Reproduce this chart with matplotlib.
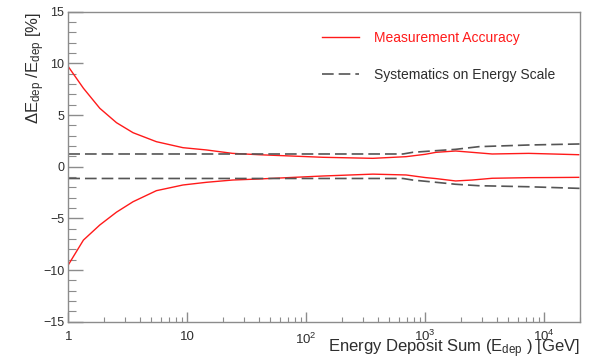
import numpy as np
import matplotlib
matplotlib.use('Agg')
import matplotlib.pyplot as plt
from matplotlib.ticker import FixedLocator, FixedFormatter, MultipleLocator, LogLocator, NullFormatter
from matplotlib.transforms import ScaledTranslation

plt.rcParams['font.family'] = ['Liberation Sans', 'DejaVu Sans']
plt.rcParams['mathtext.fontset'] = 'custom'
plt.rcParams['mathtext.rm'] = 'Liberation Sans'
plt.rcParams['mathtext.it'] = 'Liberation Sans:italic'
plt.rcParams['mathtext.default'] = 'regular'

acc_energy = [1, 1.34, 1.84, 2.54, 3.5, 5.5, 9.2, 14.5, 24, 40, 138, 363, 690,
              1000, 1230, 1800, 2480, 3650, 7400, 11700, 19500]
acc_upper = [9.68, 7.59, 5.65, 4.26, 3.29, 2.42, 1.84, 1.62, 1.29, 1.16, 0.91, 0.81, 0.97,
             1.2, 1.39, 1.52, 1.39, 1.23, 1.29, 1.23, 1.16]
acc_lower = [-9.5, -7.1, -5.64, -4.4, -3.39, -2.32, -1.77, -1.51, -1.29, -1.19, -0.9, -0.72, -0.8,
             -1.05, -1.15, -1.38, -1.29, -1.12, -1.06, -1.05, -1.03]

# systematics on energy scale (dashed)
sys_energy = [1, 650, 784, 1230, 1800, 2830, 7400, 20000]
sys_upper = [1.23, 1.23, 1.39, 1.55, 1.68, 1.94, 2.1, 2.2]
sys_lower = [-1.14, -1.14, -1.29, -1.51, -1.7, -1.84, -1.94, -2.1]

x_major = [1, 10, 100, 1000, 10000]
x_labels = ['1', '10', '$10^{2}$', '$10^{3}$', '$10^{4}$']

axis_grey = '#8c8c8c'
text_grey = '#2e2e2e'
red = '#ff1a1a'

fig = plt.figure(figsize=(5.93, 3.60), dpi=100)
ax = fig.add_axes([0.1152, 0.1064, 0.9781 - 0.1152, 0.9675 - 0.1064])

ax.plot(acc_energy, acc_upper, color=red, lw=1.0, label='Measurement Accuracy')
ax.plot(acc_energy, acc_lower, color=red, lw=1.0)
ax.plot(sys_energy, sys_upper, color='#555555', lw=1.2, dashes=(7, 3),
        label='Systematics on Energy Scale')
ax.plot(sys_energy, sys_lower, color='#555555', lw=1.2, dashes=(7, 3))

ax.set_xscale('log')
ax.set_xlim(1, 20000)
ax.set_ylim(-15, 15)

ax.xaxis.set_major_locator(FixedLocator(x_major))
ax.xaxis.set_major_formatter(FixedFormatter(x_labels))
ax.xaxis.set_minor_locator(LogLocator(base=10, subs=np.arange(2, 10), numticks=20))
ax.xaxis.set_minor_formatter(NullFormatter())
ax.yaxis.set_major_locator(MultipleLocator(5))
ax.yaxis.set_minor_locator(MultipleLocator(1))

for s in ax.spines.values():
    s.set_color(axis_grey)
    s.set_linewidth(1.0)

ax.tick_params(axis='both', which='both', direction='in', color=axis_grey,
               labelcolor=text_grey, top=False, right=False)
ax.tick_params(axis='x', which='major', length=7, width=1.0, pad=7, labelsize=9.5)
ax.tick_params(axis='x', which='minor', length=3.5, width=0.8)
ax.tick_params(axis='y', which='major', length=11, width=1.0, pad=3, labelsize=9)
ax.tick_params(axis='y', which='minor', length=5.5, width=0.8)

# the 10^3 and 10^4 labels sit a little higher in the original
for t in ax.xaxis.get_major_ticks()[3:]:
    t.label1.set_transform(t.label1.get_transform()
                           + ScaledTranslation(0, 3 / 100, fig.dpi_scale_trans))

ax.text(1.0, -0.0977, r'Energy Deposit Sum (E$_{\rm dep}$ ) [GeV]', transform=ax.transAxes,
        ha='right', va='baseline', fontsize=12, color=text_grey)
ax.set_ylabel(r'$\Delta$E$_{\rm dep}$ /E$_{\rm dep}$ [%]', loc='top',
              fontsize=12, color=text_grey)
ax.yaxis.set_label_coords(-0.041, 1.0)

leg = ax.legend(loc='upper left', bbox_to_anchor=(0.471, 0.977), frameon=False,
                fontsize=10, handlelength=2.7, handletextpad=1.08, labelspacing=1.6)
leg.get_texts()[0].set_color(red)
leg.get_texts()[1].set_color(text_grey)

fig.savefig('out.png', dpi=100)
